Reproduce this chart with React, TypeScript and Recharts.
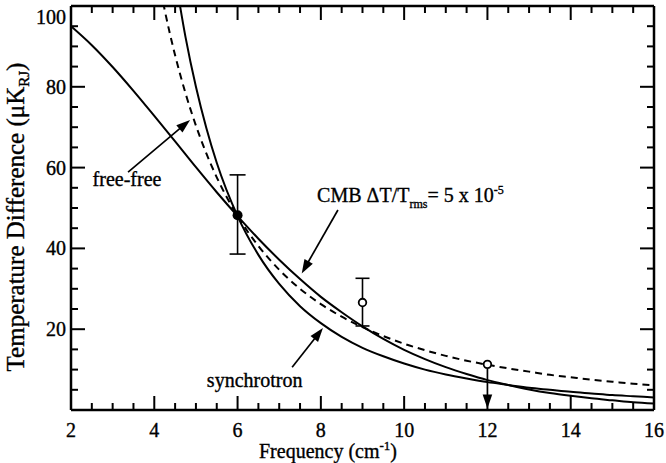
import React from 'react';
import {
  ComposedChart,
  Line,
  Scatter,
  XAxis,
  YAxis,
  ErrorBar,
  ReferenceLine,
  ReferenceDot,
} from 'recharts';

const FONT = '"Liberation Serif", "Times New Roman", Times, serif';

// Frequency (cm^-1) -> temperature difference (uK_RJ)
const cmbCurve = [
  { f: 2, t: 95.0 }, { f: 2.5, t: 90.3 }, { f: 3, t: 84.9 }, { f: 3.5, t: 79.0 },
  { f: 4, t: 72.8 }, { f: 4.5, t: 66.5 }, { f: 5, t: 60.1 }, { f: 5.5, t: 53.9 },
  { f: 6, t: 48.0 }, { f: 6.5, t: 42.4 }, { f: 7, t: 37.2 }, { f: 7.5, t: 32.4 },
  { f: 8, t: 28.0 }, { f: 8.5, t: 24.2 }, { f: 9, t: 20.7 }, { f: 9.5, t: 17.6 },
  { f: 10, t: 14.9 }, { f: 10.5, t: 12.6 }, { f: 11, t: 10.6 }, { f: 11.5, t: 8.9 },
  { f: 12, t: 7.4 }, { f: 12.5, t: 6.2 }, { f: 13, t: 5.1 }, { f: 13.5, t: 4.2 },
  { f: 14, t: 3.5 }, { f: 14.5, t: 2.9 }, { f: 15, t: 2.4 }, { f: 15.5, t: 1.9 },
  { f: 16, t: 1.6 },
];

const synchrotronCurve = [
  { f: 4.5, t: 107.4 }, { f: 4.75, t: 92.3 }, { f: 5, t: 80.0 }, { f: 5.25, t: 69.8 },
  { f: 5.5, t: 61.2 }, { f: 6, t: 48.0 }, { f: 6.5, t: 38.4 }, { f: 7, t: 31.2 },
  { f: 7.5, t: 25.7 }, { f: 8, t: 21.5 }, { f: 8.5, t: 18.1 }, { f: 9, t: 15.4 },
  { f: 9.5, t: 13.3 }, { f: 10, t: 11.5 }, { f: 10.5, t: 10.0 }, { f: 11, t: 8.8 },
  { f: 11.5, t: 7.8 }, { f: 12, t: 6.9 }, { f: 12.5, t: 6.2 }, { f: 13, t: 5.5 },
  { f: 13.5, t: 5.0 }, { f: 14, t: 4.5 }, { f: 14.5, t: 4.1 }, { f: 15, t: 3.7 },
  { f: 15.5, t: 3.4 }, { f: 16, t: 3.1 },
];

const freeFreeCurve = [
  { f: 4, t: 112.5 }, { f: 4.25, t: 99.0 }, { f: 4.5, t: 87.8 }, { f: 4.75, t: 78.4 },
  { f: 5, t: 70.4 }, { f: 5.25, t: 63.5 }, { f: 5.5, t: 57.6 }, { f: 6, t: 48.0 },
  { f: 6.5, t: 40.6 }, { f: 7, t: 34.7 }, { f: 7.5, t: 30.0 }, { f: 8, t: 26.2 },
  { f: 8.5, t: 23.1 }, { f: 9, t: 20.5 }, { f: 9.5, t: 18.3 }, { f: 10, t: 16.4 },
  { f: 10.5, t: 14.8 }, { f: 11, t: 13.4 }, { f: 11.5, t: 12.2 }, { f: 12, t: 11.2 },
  { f: 12.5, t: 10.3 }, { f: 13, t: 9.5 }, { f: 13.5, t: 8.7 }, { f: 14, t: 8.1 },
  { f: 14.5, t: 7.5 }, { f: 15, t: 7.0 }, { f: 15.5, t: 6.5 }, { f: 16, t: 6.1 },
];

const detectionPoints = [{ f: 6, t: 48.2, err: [9.6, 10.0] }];
const marginalPoints = [{ f: 9, t: 26.6, err: [5.8, 6.0] }];
const upperLimitPoints = [{ f: 12, t: 11.3 }];

const X_DOMAIN = [2, 16];
const Y_DOMAIN = [0, 100];
const xLabelTicks = [2, 4, 6, 8, 10, 12, 14, 16];
const xAllTicks = [
  2, 2.5, 3, 3.5, 4, 4.5, 5, 5.5, 6, 6.5, 7, 7.5, 8, 8.5, 9, 9.5,
  10, 10.5, 11, 11.5, 12, 12.5, 13, 13.5, 14, 14.5, 15, 15.5, 16,
];
const xInnerTicks = [
  2.5, 3, 3.5, 4, 4.5, 5, 5.5, 6, 6.5, 7, 7.5, 8, 8.5, 9, 9.5,
  10, 10.5, 11, 11.5, 12, 12.5, 13, 13.5, 14, 14.5, 15, 15.5,
];
const yLabelTicks = [20, 40, 60, 80, 100];
const yAllTicks = [
  0, 5, 10, 15, 20, 25, 30, 35, 40, 45, 50, 55, 60, 65, 70, 75, 80, 85, 90, 95, 100,
];
const yInnerTicks = [
  5, 10, 15, 20, 25, 30, 35, 40, 45, 50, 55, 60, 65, 70, 75, 80, 85, 90, 95,
];

// annotation arrows: [from, to] in data units
const freeFreeArrow = [{ x: 3.37, y: 58.9 }, { x: 4.86, y: 71.8 }];
const cmbArrow = [{ x: 8.41, y: 49.5 }, { x: 7.54, y: 33.8 }];
const synchrotronArrow = [{ x: 7.31, y: 10.6 }, { x: 8.05, y: 20.3 }];
const upperLimitArrow = [{ x: 12, y: 10.2 }, { x: 12, y: 0.4 }];

// label anchors in data units
const freeFreeLabelAt = { x: 3.345, y: 56.9 };
const synchrotronLabelAt = { x: 6.41, y: 7.2 };
const cmbLabelAt = { x: 7.91, y: 53.2 };

const txt = { fontFamily: FONT, fill: '#000', stroke: '#000', strokeWidth: 0.35 } as const;
const INK = '#000';
const TICK_W = 2;
const MINOR = 7;
const MAJOR = 14;

const isMajorX = (v: number) => v % 2 === 0;
const isMajorY = (v: number) => v % 20 === 0;

const ArrowShape = (props: any) => {
  const { x1, y1, x2, y2 } = props;
  const dx = x2 - x1;
  const dy = y2 - y1;
  const len = Math.hypot(dx, dy) || 1;
  const ux = dx / len;
  const uy = dy / len;
  const hl = 14;
  const hw = 4.8;
  const bx = x2 - ux * hl;
  const by = y2 - uy * hl;
  const px = -uy;
  const py = ux;
  return (
    <g>
      <line x1={x1} y1={y1} x2={bx + ux * 2} y2={by + uy * 2} stroke={INK} strokeWidth={1.7} />
      <polygon
        points={`${x2},${y2} ${bx + px * hw},${by + py * hw} ${bx - px * hw},${by - py * hw}`}
        fill={INK}
      />
    </g>
  );
};

// bottom axis: inward tick + label
const BottomTick = (props: any) => {
  const { x, y, payload } = props;
  const v = payload.value;
  const len = isMajorX(v) ? MAJOR : MINOR;
  return (
    <g>
      <line x1={x} x2={x} y1={y} y2={y - len} stroke={INK} strokeWidth={TICK_W} />
      {xLabelTicks.includes(v) ? (
        <text x={x} y={y + 27} textAnchor="middle" fontSize={20} style={txt}>{v}</text>
      ) : null}
    </g>
  );
};

// left axis: inward tick + label
const LeftTick = (props: any) => {
  const { x, y, payload } = props;
  const v = payload.value;
  const len = isMajorY(v) ? MAJOR : MINOR;
  const extra = v === 100 ? 11 : 0;
  return (
    <g>
      <line x1={x} x2={x + len} y1={y} y2={y} stroke={INK} strokeWidth={TICK_W} />
      {yLabelTicks.includes(v) ? (
        <text x={x - 5} y={y + 7 + extra} textAnchor="end" fontSize={20} style={txt}>{v}</text>
      ) : null}
    </g>
  );
};

// top-edge inward tick drawn from a vertical reference line
const topShapeFor = (v: number) => (p: any) => {
  const top = Math.min(p.y1, p.y2);
  const len = isMajorX(v) ? MAJOR : MINOR;
  return <line x1={p.x1} x2={p.x1} y1={top} y2={top + len} stroke={INK} strokeWidth={TICK_W} />;
};
// right-edge inward tick drawn from a horizontal reference line
const rightShapeFor = (v: number) => (p: any) => {
  const right = Math.max(p.x1, p.x2);
  const len = isMajorY(v) ? MAJOR : MINOR;
  return <line x1={right} x2={right - len} y1={p.y1} y2={p.y1} stroke={INK} strokeWidth={TICK_W} />;
};

const YTitle = (props: any) => {
  const vb = props.viewBox || { x: 11, y: 6, width: 60, height: 404 };
  const cx = vb.x + 13;
  const cy = vb.y + 211;
  return (
    <text
      transform={`translate(${cx},${cy}) rotate(-90)`}
      textAnchor="middle"
      fontSize={25}
      style={txt}
    >
      Temperature Difference (μK
      <tspan dy={5} fontSize={15}>RJ</tspan>
      <tspan dy={-5}>)</tspan>
    </text>
  );
};

const XTitle = (props: any) => {
  const vb = props.viewBox || { x: 71, y: 410, width: 583, height: 53 };
  return (
    <text x={328} y={vb.y + 48} textAnchor="middle" fontSize={20} style={txt}>
      Frequency (cm
      <tspan dy={-8} fontSize={13}>-1</tspan>
      <tspan dy={8}>)</tspan>
    </text>
  );
};

const frame = { stroke: INK, strokeWidth: 2.5 };

export default function App() {
  return (
    <div style={{ position: 'absolute', left: 0, top: 0, width: 666, height: 463, background: '#fff' }}>
      <ComposedChart width={666} height={463} margin={{ top: 6, right: 12, bottom: 0, left: 11 }}>
        <XAxis
          xAxisId="b"
          dataKey="f"
          type="number"
          domain={X_DOMAIN}
          allowDataOverflow
          ticks={xAllTicks}
          interval={0}
          tickLine={false}
          tickSize={0}
          tickMargin={0}
          height={53}
          axisLine={frame}
          tick={<BottomTick />}
          label={{ content: XTitle }}
        />
        <YAxis
          yAxisId="l"
          type="number"
          domain={Y_DOMAIN}
          allowDataOverflow
          ticks={yAllTicks}
          interval={0}
          tickLine={false}
          tickSize={0}
          tickMargin={0}
          width={60}
          axisLine={frame}
          tick={<LeftTick />}
          label={{ content: YTitle }}
        />

        {/* frame: top and right edges */}
        <ReferenceLine xAxisId="b" yAxisId="l" y={100} stroke={INK} strokeWidth={2.5} />
        <ReferenceLine xAxisId="b" yAxisId="l" x={16} stroke={INK} strokeWidth={2.5} />

        {/* inward ticks on top and right edges */}
        {xInnerTicks.map((v) => (
          <ReferenceLine key={`t${v}`} xAxisId="b" yAxisId="l" x={v} shape={topShapeFor(v)} />
        ))}
        {yInnerTicks.map((v) => (
          <ReferenceLine key={`r${v}`} xAxisId="b" yAxisId="l" y={v} shape={rightShapeFor(v)} />
        ))}

        {/* model curves */}
        <Line xAxisId="b" yAxisId="l" data={cmbCurve} dataKey="t" type="monotone" stroke={INK}
          strokeWidth={2} dot={false} activeDot={false} isAnimationActive={false} />
        <Line xAxisId="b" yAxisId="l" data={synchrotronCurve} dataKey="t" type="monotone" stroke={INK}
          strokeWidth={2} dot={false} activeDot={false} isAnimationActive={false} />
        <Line xAxisId="b" yAxisId="l" data={freeFreeCurve} dataKey="t" type="monotone" stroke={INK}
          strokeWidth={2} strokeDasharray="7 5" dot={false} activeDot={false} isAnimationActive={false} />

        {/* annotation arrows */}
        <ReferenceLine xAxisId="b" yAxisId="l" segment={freeFreeArrow} ifOverflow="visible" shape={ArrowShape} />
        <ReferenceLine xAxisId="b" yAxisId="l" segment={cmbArrow} ifOverflow="visible" shape={ArrowShape} />
        <ReferenceLine xAxisId="b" yAxisId="l" segment={synchrotronArrow} ifOverflow="visible" shape={ArrowShape} />
        <ReferenceLine xAxisId="b" yAxisId="l" segment={upperLimitArrow} ifOverflow="visible" shape={ArrowShape} />

        {/* measurements */}
        <Scatter xAxisId="b" yAxisId="l" data={detectionPoints} dataKey="t" isAnimationActive={false}
          shape={(p: any) => <circle cx={p.cx} cy={p.cy} r={5} fill={INK} />}>
          <ErrorBar dataKey="err" direction="y" width={8} stroke={INK} strokeWidth={1.6} />
        </Scatter>
        <Scatter xAxisId="b" yAxisId="l" data={marginalPoints} dataKey="t" isAnimationActive={false}
          shape={(p: any) => <circle cx={p.cx} cy={p.cy} r={3.8} fill="#fff" stroke={INK} strokeWidth={1.8} />}>
          <ErrorBar dataKey="err" direction="y" width={7} stroke={INK} strokeWidth={1.6} />
        </Scatter>
        <Scatter xAxisId="b" yAxisId="l" data={upperLimitPoints} dataKey="t" isAnimationActive={false}
          shape={(p: any) => <circle cx={p.cx} cy={p.cy} r={3.8} fill="#fff" stroke={INK} strokeWidth={1.8} />} />

        {/* text labels */}
        <ReferenceDot xAxisId="b" yAxisId="l" x={freeFreeLabelAt.x} y={freeFreeLabelAt.y} ifOverflow="visible"
          shape={(p: any) => (
            <text x={p.cx} y={p.cy + 6} textAnchor="middle" fontSize={20} style={txt}>free-free</text>
          )} />
        <ReferenceDot xAxisId="b" yAxisId="l" x={synchrotronLabelAt.x} y={synchrotronLabelAt.y} ifOverflow="visible"
          shape={(p: any) => (
            <text x={p.cx} y={p.cy + 6} textAnchor="middle" fontSize={20} style={txt}>synchrotron</text>
          )} />
        <ReferenceDot xAxisId="b" yAxisId="l" x={cmbLabelAt.x} y={cmbLabelAt.y} ifOverflow="visible"
          shape={(p: any) => (
            <text x={p.cx} y={p.cy + 7} textAnchor="start" fontSize={20} style={txt}>
              CMB ΔT/T
              <tspan dy={6} fontSize={12}>rms</tspan>
              <tspan dy={-6}>= 5 x 10</tspan>
              <tspan dy={-8} fontSize={12}>-5</tspan>
            </text>
          )} />
      </ComposedChart>
    </div>
  );
}
